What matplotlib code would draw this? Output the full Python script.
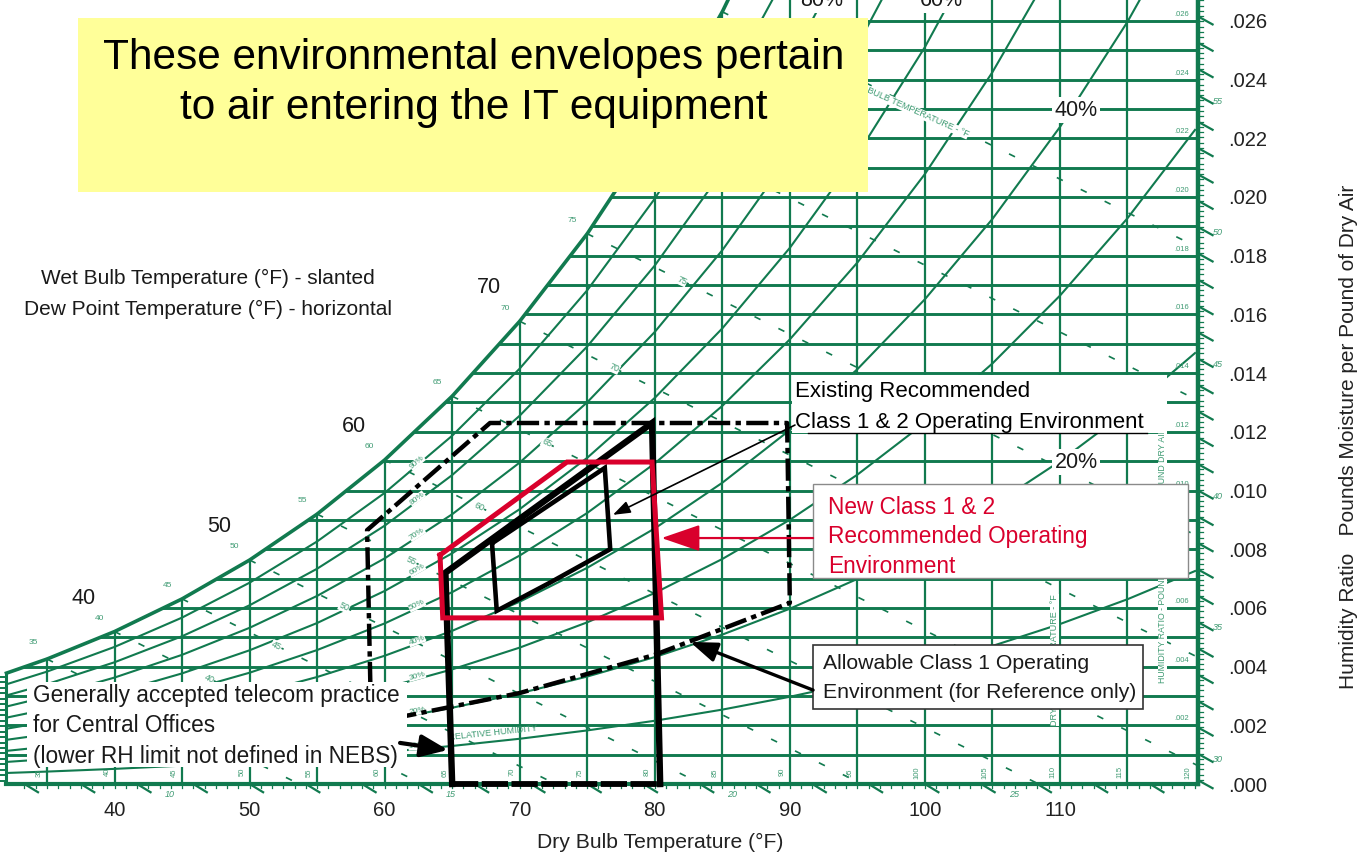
import numpy as np
import matplotlib.pyplot as plt
from matplotlib.patches import Rectangle

plt.rcParams['font.family'] = ['Liberation Sans', 'DejaVu Sans']

GREEN = '#117a4f'
GREEN_TXT = '#3f9b73'
RED = '#d9002c'
INK = '#1a1a1a'

# --- background psychrometric chart ---
sat_temp = [32, 35, 40, 45, 50, 55, 60, 65, 70, 75, 80, 85, 90, 95, 100, 105, 110, 115, 120]
sat_press = [0.0887, 0.0999, 0.1217, 0.1475, 0.1781, 0.2141, 0.2563, 0.3057, 0.3633, 0.4300,
             0.5073, 0.5964, 0.6988, 0.8162, 0.9503, 1.1030, 1.2763, 1.4725, 1.6945]  # psia
baro = 14.696
rh_levels = [0.1, 0.2, 0.3, 0.4, 0.5, 0.6, 0.7, 0.8, 0.9]
rh_names = ['10%', '20%', '30%', '40%', '50%', '60%', '70%', '80%', '90%']
dry_bulb_lines = [35, 40, 45, 50, 55, 60, 65, 70, 75, 80, 85, 90, 95, 100, 105, 110, 115]
dry_bulb_names = ['35', '40', '45', '50', '55', '60', '65', '70', '75', '80', '85', '90',
                  '95', '100', '105', '110', '115', '120']
hum_lines = [i / 1000 for i in range(1, 27)]
hum_names = ['.002', '.004', '.006', '.008', '.010', '.012', '.014', '.016', '.018', '.020',
             '.022', '.024', '.026']
wet_bulb = [35, 40, 45, 50, 55, 60, 65, 70, 75, 80, 85]
enth_bottom = [10, 15, 20, 25]
enth_right = [30, 35, 40, 45, 50, 55]

# --- axis labels ---
x_ticks = [40, 50, 60, 70, 80, 90, 100, 110]
y_ticks = [0.000, 0.002, 0.004, 0.006, 0.008, 0.010, 0.012, 0.014, 0.016, 0.018, 0.020,
           0.022, 0.024, 0.026]
y_tick_labels = ['.000', '.002', '.004', '.006', '.008', '.010', '.012', '.014', '.016',
                 '.018', '.020', '.022', '.024', '.026']
big_wb_labels = [40, 50, 60, 70]

# --- envelopes (dry bulb F, humidity ratio) ---
allow_T = [59.0, 58.7, 67.8, 89.8, 90.0, 80.0, 70.0, 61.9, 59.0]
allow_W = [0.0021, 0.00865, 0.0123, 0.0123, 0.00617, 0.0044, 0.0031, 0.00235, 0.0021]
telecom_T = [65.0, 64.5, 79.8, 80.4]
telecom_W = [0.0, 0.0072, 0.0123, 0.0]
exist_T = [67.95, 68.3, 72.2, 76.7, 76.3, 67.95]
exist_W = [0.0082, 0.0059, 0.00685, 0.0080, 0.01077, 0.0082]
new_T = [64.1, 64.3, 80.5, 79.8, 73.5, 64.1]
new_W = [0.0078, 0.00566, 0.00566, 0.01097, 0.01097, 0.0078]

FW, FH = 1364, 858
fig = plt.figure(figsize=(FW / 100, FH / 100), dpi=100)
ax = fig.add_axes([0, 74 / FH, 1200 / FW, 784 / FH])
x0 = 35 - 47 / 13.506
ax.set_xlim(x0, x0 + 1200 / 13.506)
ax.set_ylim(0, 784 / 29350)
for s in ax.spines.values():
    s.set_visible(False)


def fpos(x, y):
    return x / FW, 1 - y / FH


T = np.array(sat_temp, float)
P = np.array(sat_press)
Ws = 0.622 * P / (baro - P)

# saturation curve and RH curves
ax.plot(T, Ws, color=GREEN, lw=2.6, zorder=2)
for phi in rh_levels:
    ax.plot(T, 0.622 * phi * P / (baro - phi * P), color=GREEN, lw=1.5, zorder=1)

# horizontal (dew point) lines
for w in hum_lines:
    start = np.interp(w, Ws, T) if w > Ws[0] else 32
    ax.plot([start, 120.2], [w, w], color=GREEN, lw=2.1, zorder=1)
# vertical dry bulb lines
for t in dry_bulb_lines:
    ax.plot([t, t], [0, np.interp(t, T, Ws)], color=GREEN, lw=1.6, zorder=1)
ax.plot([32, 32], [0, Ws[0]], color=GREEN, lw=2.2, zorder=2)
ax.plot([120.2, 120.2], [0, 0.0268], color=GREEN, lw=3.2, zorder=2, clip_on=False)
ax.plot([32, 120.2], [0, 0], color=GREEN, lw=3.0, zorder=2, clip_on=False)

# wet bulb lines (dashed)
for twb in wet_bulb:
    w0 = np.interp(twb, T, Ws)
    tt = np.array([twb, 125.0])
    ax.plot(tt, w0 - 0.000228 * (tt - twb), color=GREEN, lw=1.2,
            linestyle=(0, (4, 12)), zorder=1)
    if 40 <= twb <= 75:
        ax.text(twb - 1.1, w0 + 0.00045, str(twb), color=GREEN_TXT, fontsize=6,
                ha='center', va='center', zorder=2)
        ax.text(twb + 7, w0 - 0.000228 * 7, str(twb), color=GREEN_TXT, fontsize=6.5,
                ha='center', va='center', rotation=-25, zorder=2,
                bbox=dict(fc='white', ec='none', pad=0.3))
ax.text(34.0, Ws[1] + 0.0005, '35', color=GREEN_TXT, fontsize=6, ha='center', zorder=2)

# enthalpy scale ticks on the edges
for h in np.arange(8, 29.01, 0.2):
    th = h / 0.24
    if 32.3 < th < 120:
        ax.plot([th, th], [0, -0.00013], color=GREEN, lw=0.9, clip_on=False, zorder=2)
        if abs(h - round(h)) < 1e-6:
            ax.plot([th, th + 1.0], [0, -0.00028], color=GREEN, lw=1.6,
                    clip_on=False, zorder=2)
for h in np.arange(29, 59.01, 0.2):
    wh = (h - 0.24 * 120.2) / (1061 + 0.444 * 120.2)
    if 0 < wh < 0.0267:
        ax.plot([120.2, 120.6], [wh, wh], color=GREEN, lw=0.9, clip_on=False, zorder=2)
        if abs(h - round(h)) < 1e-6:
            ax.plot([120.2, 121.3], [wh, wh - 0.00028], color=GREEN, lw=1.6,
                    clip_on=False, zorder=2)
for h in np.arange(7.8, 11.81, 0.2):
    wh = (h - 0.24 * 32) / (1061 + 0.444 * 32)
    if 0 < wh < Ws[0]:
        ln = 0.9 if abs(h - round(h)) < 1e-6 else 0.45
        ax.plot([32 - ln, 32], [wh, wh], color=GREEN, lw=1.4, clip_on=False, zorder=2)
for h in enth_bottom:
    ax.text(h / 0.24 + 2.4, -0.00035, str(h), color=GREEN_TXT, fontsize=6.5,
            style='italic', ha='center', va='center', zorder=2)
for h in enth_right:
    wh = (h - 0.24 * 120.2) / (1061 + 0.444 * 120.2)
    ax.text(121.7, wh - 0.0002, str(h), color=GREEN_TXT, fontsize=6.5, style='italic',
            ha='center', va='center', zorder=2, clip_on=False)

# small green labels
for name in dry_bulb_names:
    t = float(name)
    ax.text(t - 0.55, 0.0004, name, color=GREEN_TXT, fontsize=5.5, rotation=90,
            ha='center', va='center', zorder=2)
for name in hum_names:
    w = float(name)
    ax.text(119.0, w + 0.00022, name, color=GREEN_TXT, fontsize=5.5, ha='center',
            va='center', zorder=2)
for phi, name in zip(rh_levels, rh_names):
    tl = 62.4
    pl = np.interp(tl, T, P)
    wl = 0.622 * phi * pl / (baro - phi * pl)
    pn = np.interp(tl + 1, T, P)
    slope = 0.622 * phi * pn / (baro - phi * pn) - wl
    ang = np.degrees(np.arctan(slope * 29350 / 13.506))
    ax.text(tl, wl + 0.0001, name, color=GREEN_TXT, fontsize=6, rotation=ang,
            ha='center', va='center', zorder=2,
            bbox=dict(fc='white', ec='none', pad=0.2))
ax.text(68.0, 0.00175, 'RELATIVE HUMIDITY', color=GREEN_TXT,
        fontsize=6.5, rotation=6, ha='center', va='center', zorder=2)
ax.text(98.7, (784 - 108) / 29350, 'WET BULB TEMPERATURE - \u00b0F', color=GREEN_TXT,
        fontsize=6.5, rotation=-24, ha='center', va='center', zorder=2,
        bbox=dict(fc='white', ec='none', pad=0.2))
ax.text(109.6, (784 - 660) / 29350, 'DRY BULB TEMPERATURE - \u00b0F', color=GREEN_TXT,
        fontsize=6.5, rotation=90, ha='center', va='center', zorder=2,
        bbox=dict(fc='white', ec='none', pad=0.2))
ax.text(117.6, (784 - 555) / 29350, 'HUMIDITY RATIO - POUNDS MOISTURE PER POUND DRY AIR',
        color=GREEN_TXT, fontsize=6.3, rotation=90, ha='center', va='center', zorder=2,
        bbox=dict(fc='white', ec='none', pad=0.2))

# --- envelopes ---
ax.plot(allow_T, allow_W, color='black', lw=3.2, linestyle=(0, (5, 1.2, 1.2, 1.2)), zorder=5)
ax.plot(telecom_T, telecom_W, color='black', lw=4.6, zorder=5, clip_on=False,
        solid_joinstyle='miter')
ax.plot([telecom_T[0], telecom_T[-1]], [0, 0], color='black', lw=4.2,
        linestyle=(0, (4.5, 0.6)), zorder=5, clip_on=False)
ax.plot(exist_T, exist_W, color='black', lw=3.3, zorder=5, solid_joinstyle='miter')
ax.plot(new_T, new_W, color=RED, lw=3.6, zorder=6, solid_joinstyle='miter')

# big wet bulb / dew point labels
for v in big_wb_labels:
    ax.annotate(str(v), (v, np.interp(v, T, Ws)), xytext=(-22, 24),
                textcoords='offset points', fontsize=15.5, color=INK,
                ha='center', va='center', zorder=7)


# --- overlay boxes and text ---
def box(x_a, y_a, x_b, y_b, fc, ec='none', lw=1.0, z=8):
    ax.add_patch(Rectangle(fpos(x_a, y_b), (x_b - x_a) / FW, (y_b - y_a) / FH,
                           transform=fig.transFigure, fc=fc, ec=ec, lw=lw,
                           clip_on=False, zorder=z))


def ftext(x, y, s, **kw):
    ax.text(*fpos(x, y), s, transform=fig.transFigure, zorder=9, **kw)


box(78, 18, 868, 192, '#ffff99')
ftext(474, 83, 'These environmental envelopes pertain\nto air entering the IT equipment',
      fontsize=30.5, ha='center', va='center', linespacing=1.32, color='black')

ftext(208, 294, 'Wet Bulb Temperature (\u00b0F) - slanted\nDew Point Temperature (\u00b0F) - horizontal',
      fontsize=15, ha='center', va='center', multialignment='center', linespacing=1.8,
      color=INK)

box(792, 375, 1167, 433, 'white')
ftext(795, 407, 'Existing Recommended\nClass 1 & 2 Operating Environment', fontsize=16,
      ha='left', va='center', linespacing=1.65, color='black')
ax.plot([808 / FW, 1147 / FW], [1 - 433 / FH, 1 - 433 / FH], transform=fig.transFigure,
        color='black', lw=1.0, zorder=9, clip_on=False)

box(813, 484, 1188, 578, 'white', ec='#8a8a8a', lw=1.0)
ftext(828, 537, 'New Class 1 & 2\nRecommended Operating\nEnvironment', fontsize=16.3,
      ha='left', va='center', linespacing=1.35, color=RED)

box(813, 645, 1143, 709, 'white', ec='#333333', lw=1.2)
ftext(823, 678, 'Allowable Class 1 Operating\nEnvironment (for Reference only)',
      fontsize=15.3, ha='left', va='center', linespacing=1.65, color=INK)

box(27, 682, 407, 767, 'white')
ftext(33, 726, 'Generally accepted telecom practice\nfor Central Offices\n'
      '(lower RH limit not defined in NEBS)', fontsize=16.3, ha='left', va='center',
      linespacing=1.43, color=INK)

# RH overlay labels
for x, y, s in [(1076, 110, '40%'), (1076, 462, '20%'), (822, 0, '80%'), (941, 0, '60%')]:
    ftext(x, y, s, fontsize=15.5, ha='center', va='center', color=INK,
          bbox=dict(fc='white', ec='none', pad=1.5))


# arrows
def arrow(start, end, color, lw, hl, hw, ms=15):
    ax.annotate('', xy=end, xytext=start, annotation_clip=False, zorder=10,
                arrowprops=dict(arrowstyle='-|>,head_length=%g,head_width=%g' % (hl, hw),
                                color=color, lw=lw, shrinkA=0, shrinkB=0,
                                mutation_scale=ms))


arrow((90.38, 0.01223), (76.9, 0.00917), 'black', 1.2, 0.7, 0.25)
arrow((91.72, 0.00838), (80.5, 0.00838), RED, 1.6, 1.6, 0.55)
arrow((91.72, 0.0032), (82.61, 0.00484), 'black', 2.4, 1.1, 0.4)
arrow((61.14, 0.0014), (64.69, 0.00116), 'black', 3.0, 1.1, 0.45)

# axes ticks
ax.set_xticks(x_ticks)
ax.set_xticklabels([str(v) for v in x_ticks])
ax.tick_params(axis='x', length=0, pad=12, labelsize=14.5, labelcolor='#222222')
ax.yaxis.tick_right()
ax.set_yticks(y_ticks)
ax.set_yticklabels(y_tick_labels)
ax.tick_params(axis='y', length=0, pad=20, labelsize=14.5, labelcolor='#222222')

fig.text(660 / FW, 1 - 842 / FH, 'Dry Bulb Temperature (\u00b0F)', fontsize=15.2,
         ha='center', va='center', color='#222222')
fig.text(1348 / FW, 1 - 437 / FH, 'Humidity Ratio   Pounds Moisture per Pound of Dry Air',
         fontsize=15, rotation=90, ha='center', va='center', color='#222222')

fig.savefig('out.png', dpi=100)
